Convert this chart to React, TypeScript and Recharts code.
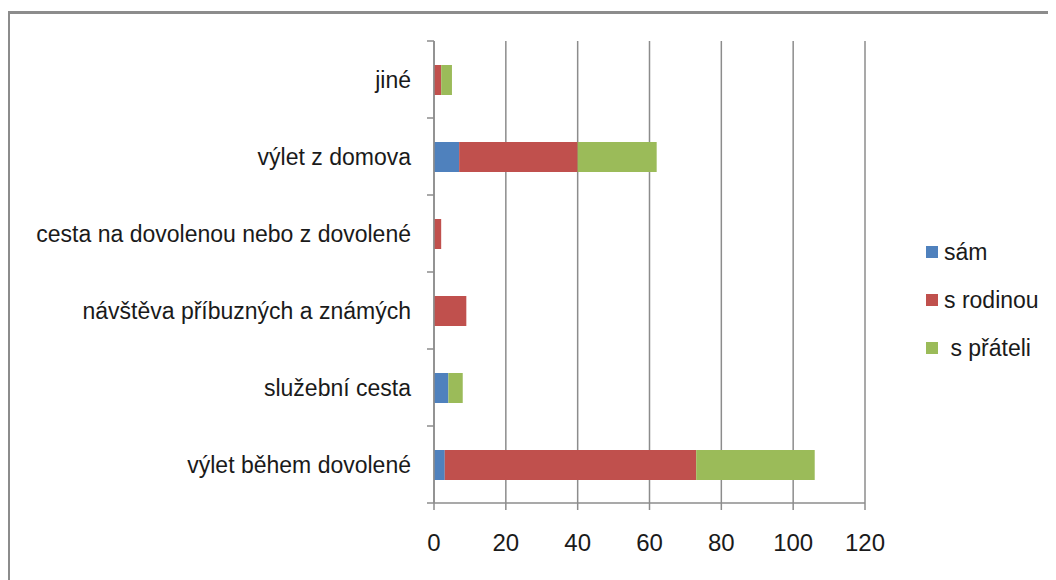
import { BarChart, Bar, XAxis, YAxis, CartesianGrid } from 'recharts';

const categories = [
  'jiné',
  'výlet z domova',
  'cesta na dovolenou nebo z dovolené',
  'návštěva příbuzných a známých',
  'služební cesta',
  'výlet během dovolené',
];
const sam = [0, 7, 0, 0, 4, 3];
const sRodinou = [2, 33, 2, 9, 0, 70];
const sPrateli = [3, 22, 0, 0, 4, 33];
const xTicks = [0, 20, 40, 60, 80, 100, 120];

const seriesDefs = [
  { key: 'sam', name: 'sám', color: '#4f81bd' },
  { key: 'rodinou', name: 's rodinou', color: '#c0504d' },
  { key: 'prateli', name: ' s přáteli', color: '#9bbb59' },
];

const data = categories.map((c, i) => ({
  cat: c,
  sam: sam[i],
  rodinou: sRodinou[i],
  prateli: sPrateli[i],
}));

if (typeof document !== 'undefined') document.body.style.overflow = 'hidden';

const FONT = '"Liberation Sans", sans-serif';
const GRID = '#8c8c8c';
const W = 1040;
const H = 572;
const M = { top: 33, right: 183, bottom: 37, left: 0 };
const Y_W = 426;
const X_H = 40;
const band = (H - M.top - M.bottom - X_H) / categories.length;

function CatTick(props: any) {
  const { x, y, payload, index } = props;
  const axisX = x + 23;
  return (
    <g>
      <text x={x} y={y} dy="0.35em" textAnchor="end" fontSize={23} fill="#1a1a1a" fontFamily={FONT}>
        {payload.value}
      </text>
      <line x1={axisX - 7} x2={axisX} y1={y - band / 2} y2={y - band / 2} stroke={GRID} strokeWidth={1.5} />
      {index === categories.length - 1 && (
        <line x1={axisX - 7} x2={axisX} y1={y + band / 2} y2={y + band / 2} stroke={GRID} strokeWidth={1.5} />
      )}
    </g>
  );
}

export default function App() {
  return (
    <div style={{ position: 'relative', width: W, height: H, overflow: 'hidden' }}>
      <div
        style={{
          position: 'absolute',
          left: -1,
          top: 3,
          width: 2000,
          height: 1000,
          borderTop: `3px solid ${GRID}`,
          borderLeft: `3px solid ${GRID}`,
        }}
      />
      <div style={{ position: 'absolute', left: 0, top: 0 }}>
        <BarChart width={W} height={H} data={data} layout="vertical" margin={M} barSize={30}>
          <CartesianGrid horizontal={false} stroke={GRID} strokeWidth={1.5} />
          <XAxis
            type="number"
            domain={[0, 120]}
            ticks={xTicks}
            height={X_H}
            stroke={GRID}
            strokeWidth={1.5}
            tickSize={7}
            tickMargin={24}
            tick={{ fontSize: 24, fill: '#1a1a1a', fontFamily: FONT }}
          />
          <YAxis
            type="category"
            dataKey="cat"
            width={Y_W}
            stroke={GRID}
            strokeWidth={1.5}
            tickLine={false}
            tickSize={7}
            tickMargin={16}
            tick={<CatTick />}
            interval={0}
          />
          {seriesDefs.map((s) => (
            <Bar key={s.key} dataKey={s.key} name={s.name} stackId="a" fill={s.color} isAnimationActive={false} />
          ))}
        </BarChart>
      </div>
      <div style={{ position: 'absolute', left: 918, top: 220, fontFamily: FONT, fontSize: 23, color: '#1a1a1a' }}>
        {seriesDefs.map((s) => (
          <div key={s.key} style={{ display: 'flex', alignItems: 'center', height: 48, whiteSpace: 'pre' }}>
            <span style={{ display: 'inline-block', width: 12, height: 12, background: s.color, marginRight: 6 }} />
            {s.name}
          </div>
        ))}
      </div>
    </div>
  );
}
